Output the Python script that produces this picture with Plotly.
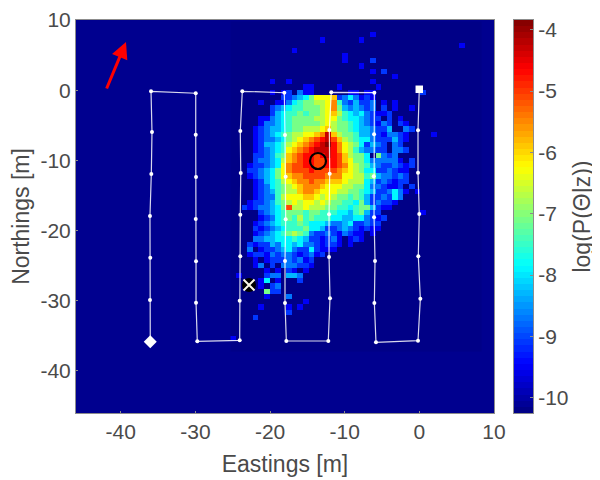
import numpy as np
import plotly.graph_objects as go

# Posterior grid (top to bottom); each character is one cell's colour level
LEVELS = {".": -10.25, "1": -9.9, "2": -9.45, "3": -9.05, "4": -8.65, "5": -8.25, "6": -7.85, "7": -7.45,
          "8": -7.05, "9": -6.65, "a": -6.25, "b": -5.85, "c": -5.45, "d": -5.05, "e": -4.65, "f": -4.25, "g": -3.9}
rows_upper = [
    "", "",
    "........................2",
    "...............2......2",
    "........................................2",
    "..........2",
    "...................2",
    "...................2....3",
    "......................2",
    "........................2.3",
    "............................2",
    "......2..2..............2",
    "............22....2......2",
    "......2.23.422......22.22........3",
    "........334568aaab3464232",
    "....2..224678899ac7435334.2.2",
    "......3456778889ac8545434.3.2..2",
    "......3567787889ab9765643223",
    "....224567888899aa87665433.3.2",
    "....244567888889a98876543243.32",
]
rows_core = [
    "...234556788999ab98876554335..43",
    "...234567899aabcfb9887554324432....2",
    "...23445689abcdefdb987664333532",
    "...2355679abcdefgeca9863543.43",
    "...234567abcdefffeca9754433.443",
    "...334578bcdeedefedb9886.8434",
    "...344569bcdeeddeedba886444442.3",
    "..233456acddeeddeedca98754334323",
    "..334568acdddeddddcba9866334322",
    "..234568abccddddcccaa9978544343",
    "...235679abccdccbbba99965343233",
    "...2346789abcccbaaa99886443223.3",
    "...23457899bccbaaa9988765334642.2",
    "...234479aaabba9a9887875334364",
    "..23345789a9aa9a9887768534332",
    ".32344568d99a999887767885322",
    "....3456788878877766578533.......2",
    "....23467879787776655664323",
    "...23456777876665445633433",
    "...32345677786653345432322",
]
rows_lower = [
    "...23456789874334324322.2",
    "...4455666765332342.232",
    "..32335466564432332.2",
    "..4.23345643363222",
    "..23324344323423",
    "...2.233343423",
    "...24.3.444332",
    ".....2.2.32.2",
    "2....344.554",
    "....26.2...3",
    "....2.34",
    ".....833",
    ".....2...4",
    "............2",
    "....2....2.2",
    ".........3",
    "...3",
]
far_left_cell_row = 60   # single faint cell one column left of the strings above
far_left_cell_level = "2"

# Survey path
path_e = [-36.05, -36.09, -36.05, -36.09, -35.91, -35.82, -35.95,
          -29.96, -29.96, -29.92, -29.96, -29.92, -29.92, -29.75,
          -24.07, -24.07, -23.99, -23.99, -23.93, -23.99, -23.72,
          -18.09, -18.00, -17.91, -17.91, -18.00, -18.00, -17.82,
          -12.20, -11.97, -12.10, -12.10, -12.01, -12.06, -11.80,
          -6.03, -6.07, -6.11, -6.07, -5.94, -6.03, -5.81,
          -0.18, 0.13, -0.14, -0.01, -0.18, -0.18, -0.01]
path_n = [-35.84, -29.90, -23.87, -17.93, -11.94, -5.96, -0.16,
          -0.44, -6.34, -12.37, -18.36, -24.38, -30.28, -35.78,
          -35.64, -30.00, -23.67, -17.74, -11.80, -5.82, -0.16,
          -0.36, -6.39, -12.33, -18.40, -24.34, -30.33, -35.74,
          -35.74, -29.66, -23.77, -17.69, -11.90, -5.67, -0.30,
          -0.36, -6.29, -12.27, -18.11, -24.34, -30.33, -35.92,
          -35.70, -29.71, -23.67, -17.64, -11.76, -5.72, 0.13]
cross_e, cross_n = [-22.82], [-27.76]
ring_e, ring_n = [-13.58], [-10.09]
arrow_tail = (-41.98, 0.03)
arrow_tip = (-39.30, 6.87)

x_ticks = [-40, -30, -20, -10, 0, 10]
y_ticks = [-40, -30, -20, -10, 0, 10]
c_ticks = [-4, -5, -6, -7, -8, -9, -10]
x_title = "Eastings [m]"
y_title = "Northings [m]"
c_title = "log(P(Θ|z))"

CMIN, CMAX = -10.25, -3.84
CELL_X, CELL_Y = 0.7467, 0.7467
FIRST_COL = 29
GRID_TOP_OFFSET = 0.3     # rows start slightly below the top of the axes
GRID_LEFT_OFFSET = -0.27  # columns start slightly left of the axis cell raster

rows = rows_upper + rows_core + rows_lower
ncols = 44
nrows = far_left_cell_row + 3
Z = np.full((nrows, ncols + 1), LEVELS["."])
for r, s in enumerate(rows):
    for p, ch in enumerate(s):
        Z[r, p + 1] = LEVELS[ch]
Z[far_left_cell_row, 0] = LEVELS[far_left_cell_level]

def jet(t):
    r = np.clip(min(4 * t - 1.5, -4 * t + 4.5), 0, 1)
    g = np.clip(min(4 * t - 0.5, -4 * t + 3.5), 0, 1)
    b = np.clip(min(4 * t + 0.5, -4 * t + 2.5), 0, 1)
    return f"rgb({int(r*255)},{int(g*255)},{int(b*255)})"

N = 64
scale = []
for i in range(N):
    c = jet((i + 0.5) / N)
    scale += [[i / N, c], [(i + 1) / N, c]]

TEXT = "#4a4a4a"
FRAME = "#8c8c8c"
TICK_FONT = dict(family="Liberation Sans", size=21, color=TEXT)
TITLE_FONT = dict(family="Liberation Sans", size=23, color=TEXT)

fig = go.Figure()
fig.add_trace(go.Heatmap(
    z=Z[::-1],
    x0=-46 + CELL_X * (FIRST_COL - 1 + GRID_LEFT_OFFSET + 0.5), dx=CELL_X,
    y0=10 - CELL_Y * (GRID_TOP_OFFSET + nrows - 0.5), dy=CELL_Y,
    zmin=CMIN, zmax=CMAX, colorscale=scale, hoverinfo="skip", showscale=False,
))
fig.add_trace(go.Scatter(x=path_e, y=path_n, mode="lines+markers", hoverinfo="skip",
                         line=dict(color="rgba(255,255,255,0.85)", width=1.2),
                         marker=dict(color="white", size=4)))
fig.add_trace(go.Scatter(x=path_e[:1], y=path_n[:1], mode="markers", hoverinfo="skip",
                         marker=dict(color="white", symbol="diamond", size=10)))
fig.add_trace(go.Scatter(x=path_e[-1:], y=path_n[-1:], mode="markers", hoverinfo="skip",
                         marker=dict(color="white", symbol="square", size=7.5)))
fig.add_trace(go.Scatter(x=cross_e, y=cross_n, mode="markers", hoverinfo="skip",
                         marker=dict(color="black", symbol="circle", size=14)))
fig.add_trace(go.Scatter(x=cross_e, y=cross_n, mode="markers", hoverinfo="skip",
                         marker=dict(color="#fbf8e8", symbol="x-thin", size=11, line=dict(color="#fbf8e8", width=2))))
fig.add_trace(go.Scatter(x=ring_e, y=ring_n, mode="markers", hoverinfo="skip",
                         marker=dict(color="black", symbol="circle-open", size=16, line=dict(color="black", width=2.2))))

# Colour bar: a one-column heatmap on its own axes, so that it lines up with the main axes exactly
bar_levels = [CMIN + (CMAX - CMIN) * (i + 0.5) / N for i in range(N)]
fig.add_trace(go.Heatmap(z=[[v] for v in bar_levels], x=[0], y=bar_levels, xaxis="x2", yaxis="y2",
                         zmin=CMIN, zmax=CMAX, colorscale=scale, showscale=False, hoverinfo="skip"))

W, H = 592, 472
L, R, T, B = 68, 486, 12, 405   # axes box in figure pixels
BAR_L, BAR_R = 506, 525

axis = dict(showgrid=False, zeroline=False, ticks="inside", ticklen=2, tickcolor=FRAME, automargin=False,
            showline=True, linecolor=FRAME, linewidth=1, mirror=True, tickfont=TICK_FONT, layer="above traces")
fig.update_layout(
    width=W, height=H, margin=dict(l=0, r=0, t=0, b=0, pad=0), autosize=False,
    showlegend=False, paper_bgcolor="white", plot_bgcolor="rgb(0,0,143)",
    xaxis=dict(axis, range=[-46, 10], domain=[L / W, R / W], anchor="y", tickvals=x_ticks,
               ticktext=[str(t) for t in x_ticks], title=dict(text=x_title, standoff=13, font=TITLE_FONT)),
    yaxis=dict(axis, range=[-46, 10], domain=[1 - B / H, 1 - T / H], anchor="x", tickvals=y_ticks,
               ticktext=[str(t) for t in y_ticks], title=dict(text=y_title, standoff=8, font=TITLE_FONT)),
    xaxis2=dict(domain=[BAR_L / W, BAR_R / W], anchor="y2", showticklabels=False, ticks="", showgrid=False,
                zeroline=False, showline=True, linecolor=FRAME, mirror=True, range=[-0.5, 0.5], automargin=False),
    yaxis2=dict(axis, domain=[1 - B / H, 1 - T / H], anchor="x2", side="right", range=[CMIN, CMAX], ticklen=3,
                tickvals=c_ticks, ticktext=[str(t) for t in c_ticks],
                title=dict(text=c_title, standoff=6, font=TITLE_FONT)),
    annotations=[
        dict(x=arrow_tip[0], y=arrow_tip[1], ax=arrow_tail[0], ay=arrow_tail[1], xref="x", yref="y",
             axref="x", ayref="y", showarrow=True, arrowhead=2, arrowsize=1.1, arrowwidth=3,
             arrowcolor="red", text=""),
    ],
)
fig.write_html("out.html")
